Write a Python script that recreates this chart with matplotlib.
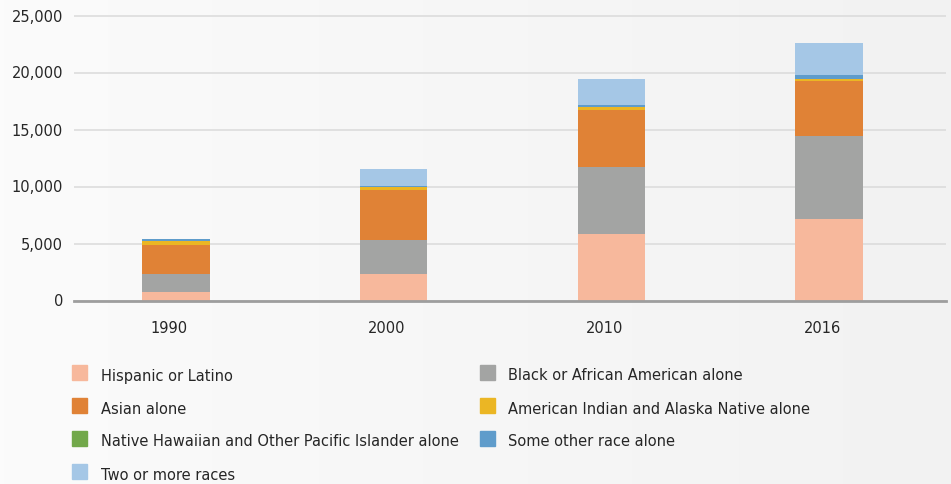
import matplotlib
matplotlib.use("Agg")
import matplotlib.pyplot as plt
import numpy as np
from matplotlib.patches import Rectangle
from matplotlib.colors import LinearSegmentedColormap

years = ["1990", "2000", "2010", "2016"]
series_names = [
    "Hispanic or Latino",
    "Black or African American alone",
    "Asian alone",
    "American Indian and Alaska Native alone",
    "Native Hawaiian and Other Pacific Islander alone",
    "Some other race alone",
    "Two or more races",
]
hispanic = [750, 2350, 5860, 7150]
black = [1600, 2960, 5850, 7280]
asian = [2520, 4380, 5000, 4820]
aian = [340, 230, 250, 170]
nhpi = [10, 15, 20, 20]
other = [175, 140, 180, 370]
two_more = [0, 1460, 2250, 2780]
yticks = [0, 5000, 10000, 15000, 20000, 25000]
ytick_labels = ["0", "5,000", "10,000", "15,000", "20,000", "25,000"]

values = [hispanic, black, asian, aian, nhpi, other, two_more]
colors = ["#f7b89c", "#a3a4a3", "#e08236", "#ebb624", "#72a84a", "#5f9ccb", "#a5c7e6"]

W, H = 951, 484
fig = plt.figure(figsize=(W / 100, H / 100), dpi=100)

# gradient background
bg = fig.add_axes([0, 0, 1, 1], zorder=-10)
grad = np.linspace(0, 1, 256)[None, :]
cmap = LinearSegmentedColormap.from_list("bg", ["#fbfbfb", "#f2f2f2"])
bg.imshow(grad, aspect="auto", cmap=cmap, extent=[0, 1, 0, 1])
bg.set_axis_off()

text_color = "#262626"
plt.rcParams["font.family"] = ["DejaVu Sans"]

ymax = 25400
px_per_unit = 285.0 / 25000
ax_bottom_px = 300.5
ax_h_px = ymax * px_per_unit
ax = fig.add_axes([74 / W, 1 - ax_bottom_px / H, (946 - 74) / W, ax_h_px / H])
ax.patch.set_alpha(0)

x = np.arange(len(years))
bottom = np.zeros(len(years))
for vals, c in zip(values, colors):
    ax.bar(x, vals, width=0.31, bottom=bottom, color=c, zorder=3, linewidth=0)
    bottom += np.array(vals)

ax.set_xlim(-0.468, 3.537)
ax.set_ylim(0, ymax)
ax.set_yticks(yticks)
ax.set_yticklabels(ytick_labels)
ax.set_xticks(x - 0.03)
ax.set_xticklabels(years)
ax.tick_params(axis="both", length=0, labelsize=10.5, colors=text_color)
ax.tick_params(axis="y", pad=8)
ax.tick_params(axis="x", pad=15)
ax.yaxis.grid(True, color="#dadada", linewidth=1.1, zorder=0)
for s in ["top", "right", "left"]:
    ax.spines[s].set_visible(False)
ax.spines["bottom"].set_color("#9e9e9e")
ax.spines["bottom"].set_linewidth(2)
ax.spines["bottom"].set_zorder(4)

# legend
rows_y = [375, 408, 441, 474]
col_sq_x = [72, 480]
col_tx_x = [101, 508]
sq = 15
for i, (name, c) in enumerate(zip(series_names, colors)):
    r, col = divmod(i, 2)
    yc = rows_y[r]
    fig.patches.append(Rectangle((col_sq_x[col] / W, 1 - (yc - 2.5 + sq / 2) / H), sq / W, sq / H,
                                 transform=fig.transFigure, color=c, figure=fig))
    fig.text(col_tx_x[col] / W, 1 - (yc + 1) / H, name, fontsize=10.5, color=text_color,
             va="center", ha="left")

fig.savefig("out.png", dpi=100)
